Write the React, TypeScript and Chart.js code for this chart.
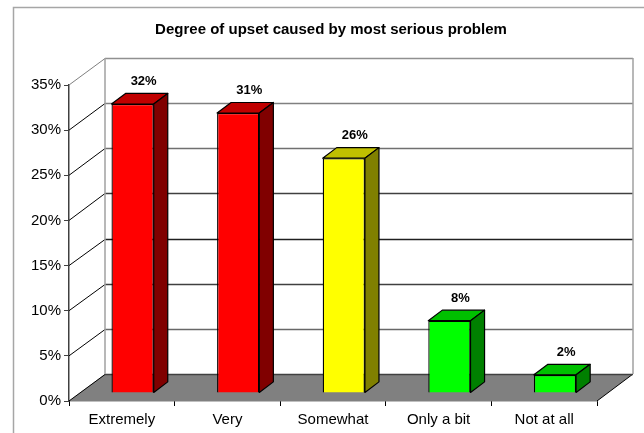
import React, { useEffect, useRef } from "react";
import { Chart, registerables } from "chart.js";

Chart.register(...registerables);

const categories = ["Extremely", "Very", "Somewhat", "Only a bit", "Not at all"];
const upsetShare = [32, 31, 26, 8, 2];
const faceColors = ["#ff0000", "#ff0000", "#ffff00", "#00ff00", "#00ff00"];
const topColors = ["#c00000", "#c00000", "#c0c000", "#00c000", "#00c000"];
const sideColors = ["#800000", "#800000", "#808000", "#008000", "#008000"];
const valueTicks = [0, 5, 10, 15, 20, 25, 30, 35];
const wallRuleColors = ["#404040", "#686868", "#404040", "#202020", "#404040", "#707070", "#808080", "#909090"];

const FONT = '"Liberation Sans", Arial, sans-serif';

// Projection of the box: how far the back wall sits from the front plane.
const WALL_DX = 36;
const WALL_DY = -27;
// Bars stand on the floor, part of the way towards the wall.
const BAR_NEAR = 0.3;
const BAR_FAR = 0.69;

const sceneBox = {
  id: "sceneBox",
  afterLayout(chart: any) {
    // Centre the heading a little left of the plot's middle.
    chart.titleBlock.left -= 4;
  },
  beforeDraw(chart: any) {
    const { ctx, width, height } = chart;
    ctx.save();
    ctx.fillStyle = "#ffffff";
    ctx.fillRect(0, 0, width, height);
    ctx.strokeStyle = "#a6a6a6";
    ctx.lineWidth = 1.5;
    ctx.beginPath();
    ctx.moveTo(13.5, height);
    ctx.lineTo(13.5, 7.5);
    ctx.lineTo(width, 7.5);
    ctx.stroke();
    ctx.restore();
  },
  beforeDatasetsDraw(chart: any) {
    const { ctx, chartArea, scales } = chart;
    const { left, right, bottom } = chartArea;
    const y = scales.y;
    ctx.save();

    // Floor
    ctx.fillStyle = "#808080";
    ctx.beginPath();
    ctx.moveTo(left, bottom);
    ctx.lineTo(left + WALL_DX, bottom + WALL_DY);
    ctx.lineTo(right + WALL_DX, bottom + WALL_DY);
    ctx.lineTo(right, bottom);
    ctx.closePath();
    ctx.fill();
    ctx.strokeStyle = "#000000";
    ctx.lineWidth = 1;
    ctx.beginPath();
    ctx.moveTo(right, bottom);
    ctx.lineTo(right + WALL_DX, bottom + WALL_DY);
    ctx.stroke();

    // Side-wall diagonals and back-wall rules, one per tick
    valueTicks.forEach((v, i) => {
      const py = y.getPixelForValue(v);
      const backY = Math.round(py + WALL_DY) + 0.5;
      ctx.strokeStyle = v === 35 ? "#808080" : "#000000";
      ctx.lineWidth = 1;
      ctx.beginPath();
      ctx.moveTo(left, py);
      ctx.lineTo(left + WALL_DX, backY);
      ctx.stroke();
      ctx.strokeStyle = wallRuleColors[i];
      ctx.lineWidth = 1.5;
      ctx.beginPath();
      ctx.moveTo(left + WALL_DX, backY);
      ctx.lineTo(right + WALL_DX, backY);
      ctx.stroke();
    });

    // Back-wall uprights
    ctx.strokeStyle = "#a0a0a0";
    ctx.lineWidth = 1.5;
    const top = y.getPixelForValue(35) + WALL_DY;
    const floor = bottom + WALL_DY;
    [left + WALL_DX, right + WALL_DX].forEach((x) => {
      ctx.beginPath();
      ctx.moveTo(x, top);
      ctx.lineTo(x, floor);
      ctx.stroke();
    });
    ctx.restore();

    // The front faces drawn next belong to the bars' near plane.
    ctx.save();
    ctx.translate(WALL_DX * BAR_NEAR, WALL_DY * BAR_NEAR);
  },
  afterDatasetsDraw(chart: any) {
    const { ctx } = chart;
    const depth = BAR_FAR - BAR_NEAR;
    const dx = WALL_DX * depth;
    const dy = WALL_DY * depth;
    const meta = chart.getDatasetMeta(0);

    // Still in the near plane: add the top and side of each box.
    ctx.strokeStyle = "#000000";
    ctx.lineWidth = 1.2;
    ctx.lineJoin = "round";
    meta.data.forEach((bar: any, i: number) => {
      const { x, y, base, width } = bar.getProps(["x", "y", "base", "width"], true);
      const l = x - width / 2;
      const r = x + width / 2;
      ctx.fillStyle = topColors[i];
      ctx.beginPath();
      ctx.moveTo(l, y);
      ctx.lineTo(l + dx, y + dy);
      ctx.lineTo(r + dx, y + dy);
      ctx.lineTo(r, y);
      ctx.closePath();
      ctx.fill();
      ctx.stroke();
      ctx.fillStyle = sideColors[i];
      ctx.beginPath();
      ctx.moveTo(r, y);
      ctx.lineTo(r + dx, y + dy);
      ctx.lineTo(r + dx, base + dy);
      ctx.lineTo(r, base);
      ctx.closePath();
      ctx.fill();
      ctx.stroke();
    });

    // Value labels float above each box.
    ctx.fillStyle = "#000000";
    ctx.font = `bold 13px ${FONT}`;
    ctx.textAlign = "center";
    ctx.textBaseline = "alphabetic";
    meta.data.forEach((bar: any, i: number) => {
      const { x, y } = bar.getProps(["x", "y"], true);
      ctx.fillText(`${upsetShare[i]}%`, x + dx - 3, y + dy - 8.5);
    });
    ctx.restore();
  },
};

export default function App() {
  const ref = useRef<HTMLCanvasElement>(null);

  useEffect(() => {
    const chart = new Chart(ref.current!, {
      type: "bar",
      data: {
        labels: categories,
        datasets: [
          {
            data: upsetShare,
            backgroundColor: faceColors,
            borderColor: "#000000",
            borderWidth: 1.3,
            barPercentage: 0.4,
            categoryPercentage: 1,
            clip: false,
          },
        ],
      },
      options: {
        responsive: false,
        animation: false,
        events: [],
        layout: { padding: { top: 0, left: 0, right: 47, bottom: 0 } },
        plugins: {
          legend: { display: false },
          tooltip: { enabled: false },
          title: {
            display: true,
            text: "Degree of upset caused by most serious problem",
            color: "#000000",
            fullSize: false,
            font: { family: FONT, size: 15, weight: "bold" },
            padding: { top: 21, bottom: 46 },
          },
        },
        scales: {
          x: {
            afterFit: (s: any) => {
              s.height = 32;
            },
            border: { color: "#000000", width: 1.3 },
            grid: { offset: true, drawOnChartArea: false, drawTicks: true, tickLength: 5, color: "#000000" },
            ticks: {
              color: "#000000",
              padding: 5,
              maxRotation: 0,
              font: { family: FONT, size: 15 },
            },
          },
          y: {
            min: 0,
            max: 35,
            afterFit: (s: any) => {
              s.width = 69;
            },
            afterBuildTicks: (s: any) => {
              s.ticks = valueTicks.map((value) => ({ value }));
            },
            border: { color: "#404040", width: 1.5 },
            grid: { drawOnChartArea: false, tickLength: 5, color: "#404040" },
            ticks: {
              color: "#000000",
              padding: 3,
              font: { family: FONT, size: 15 },
              callback: (v: any) => `${v}%`,
            },
          },
        },
      },
      plugins: [sceneBox],
    } as any);
    return () => chart.destroy();
  }, []);

  return (
    <div style={{ position: "absolute", left: 0, top: 0, width: 644, height: 433 }}>
      <canvas ref={ref} width={644} height={433} style={{ display: "block" }} />
    </div>
  );
}
